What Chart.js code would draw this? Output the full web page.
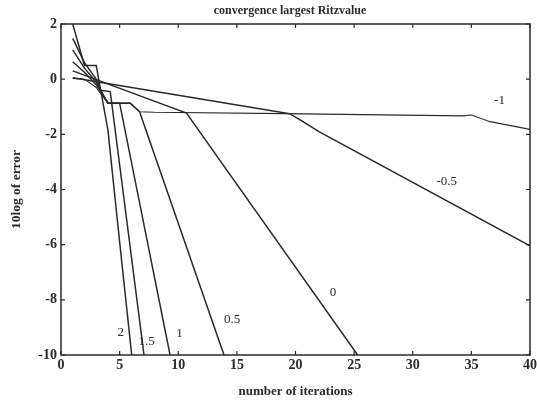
<!DOCTYPE html>
<html>
<head>
<meta charset="utf-8">
<title>convergence largest Ritzvalue</title>
<script src="https://cdn.jsdelivr.net/npm/chart.js@4.4.0/dist/chart.umd.min.js"></script>
<style>
  html, body { margin: 0; padding: 0; background: #fff; }
  canvas { display: block; }
</style>
</head>
<body>
<canvas id="chart" width="537" height="404"></canvas>
<script>
// error curves (10log) per parameter value, vertices as [iteration, error]
const curveNames = ['2', '1.5', '1', '0.5', '0', '-0.5', '-1'];

const iter2 = [1, 2, 3, 4, 5, 6.03];
const err2 = [2.0, 0.5, 0.5, -1.84, -5.9, -10];

const iter15 = [1, 2, 3, 3.4, 4.2, 7.08];
const err15 = [1.48, 0.6, 0.0, -0.4, -0.45, -10];

const iter1 = [1, 2, 3, 4, 5, 9.3];
const err1 = [1.06, 0.4, -0.1, -0.87, -0.87, -10];

const iter05 = [1, 2, 3, 4, 5.9, 6.7, 13.9];
const err05 = [0.63, 0.25, -0.2, -0.87, -0.87, -1.18, -10];

const iter0 = [1, 10.7, 25.3];
const err0 = [0.3, -1.23, -10];

const iterM05 = [1, 19.5, 20.5, 22, 40];
const errM05 = [0.05, -1.25, -1.5, -1.9, -6.04];

const iterM1 = [1, 2, 3, 4, 5.9, 6.7, 8, 19, 34.3, 35, 36.6, 40];
const errM1 = [0.03, 0.0, -0.3, -0.87, -0.87, -1.18, -1.2, -1.25, -1.33, -1.3, -1.54, -1.82];

// where each curve's name is written (data units)
const labelIter = [5.1, 7.3, 10.1, 14.6, 23.2, 32.9, 37.4];
const labelErr = [-9.2, -9.5, -9.22, -8.73, -7.73, -3.72, -0.76];

const xTicks = [0, 5, 10, 15, 20, 25, 30, 35, 40];
const yTicks = [2, 0, -2, -4, -6, -8, -10];

const iters = [iter2, iter15, iter1, iter05, iter0, iterM05, iterM1];
const errs = [err2, err15, err1, err05, err0, errM05, errM1];

const INK = '#2a2a2a';
const SERIF = '"Liberation Serif", "DejaVu Serif", serif';

const datasets = curveNames.map((name, i) => ({
  label: name,
  data: iters[i].map((x, j) => ({ x: x, y: errs[i][j] })),
  showLine: true,
  borderColor: INK,
  borderWidth: name === '-1' ? 1.1 : 1.5,
  pointRadius: 0,
  tension: 0
}));

// closed frame with inward ticks on all four sides
const framePlugin = {
  id: 'frame',
  afterDatasetsDraw(chart) {
    const { ctx, chartArea: a, scales: { x, y } } = chart;
    ctx.save();
    ctx.strokeStyle = INK;
    ctx.lineWidth = 1.5;
    ctx.strokeRect(a.left, a.top, a.right - a.left, a.bottom - a.top);
    ctx.lineWidth = 1.2;
    ctx.beginPath();
    xTicks.forEach(v => {
      const px = x.getPixelForValue(v);
      ctx.moveTo(px, a.bottom); ctx.lineTo(px, a.bottom - 4);
      ctx.moveTo(px, a.top); ctx.lineTo(px, a.top + 4);
    });
    yTicks.forEach(v => {
      const py = y.getPixelForValue(v);
      ctx.moveTo(a.left, py); ctx.lineTo(a.left + 4, py);
      ctx.moveTo(a.right, py); ctx.lineTo(a.right - 4, py);
    });
    ctx.stroke();
    ctx.restore();
  }
};

// curve names and the title line
const textPlugin = {
  id: 'texts',
  afterDraw(chart) {
    const { ctx, scales: { x, y } } = chart;
    ctx.save();
    ctx.fillStyle = INK;
    ctx.textAlign = 'center';
    ctx.textBaseline = 'middle';
    ctx.font = '13px ' + SERIF;
    curveNames.forEach((name, i) => {
      ctx.fillText(name, x.getPixelForValue(labelIter[i]), y.getPixelForValue(labelErr[i]));
    });
    ctx.font = 'bold 12px ' + SERIF;
    ctx.fillText('convergence largest Ritzvalue', 290, 11);
    ctx.restore();
  }
};

new Chart(document.getElementById('chart'), {
  type: 'scatter',
  data: { datasets: datasets },
  options: {
    responsive: false,
    animation: false,
    devicePixelRatio: 1,
    layout: { padding: { top: 24, right: 7, left: 0, bottom: 0 } },
    plugins: {
      legend: { display: false },
      tooltip: { enabled: false },
      title: { display: false }
    },
    scales: {
      x: {
        type: 'linear',
        min: 0,
        max: 40,
        afterFit(scale) {
          scale.height = 49;
          scale.paddingLeft = 0;
          scale.paddingRight = 0;
        },
        afterBuildTicks(scale) { scale.ticks = xTicks.map(v => ({ value: v })); },
        grid: { drawOnChartArea: false, drawTicks: false },
        border: { display: false },
        ticks: {
          color: INK,
          padding: 2,
          font: { family: SERIF, size: 14, weight: 'bold' }
        },
        title: {
          display: true,
          text: 'number of iterations',
          color: INK,
          padding: { top: 0, bottom: 5 },
          font: { family: SERIF, size: 13, weight: 'bold' }
        }
      },
      y: {
        type: 'linear',
        min: -10,
        max: 2,
        afterFit(scale) {
          scale.width = 61;
          scale.paddingTop = 0;
          scale.paddingBottom = 0;
        },
        afterBuildTicks(scale) { scale.ticks = yTicks.map(v => ({ value: v })); },
        grid: { drawOnChartArea: false, drawTicks: false },
        border: { display: false },
        ticks: {
          color: INK,
          padding: 4,
          font: { family: SERIF, size: 14, weight: 'bold' }
        },
        title: {
          display: true,
          text: '10log of error',
          color: INK,
          padding: { top: 8, bottom: 0 },
          font: { family: SERIF, size: 13.5, weight: 'bold' }
        }
      }
    }
  },
  plugins: [framePlugin, textPlugin]
});
</script>
</body>
</html>
